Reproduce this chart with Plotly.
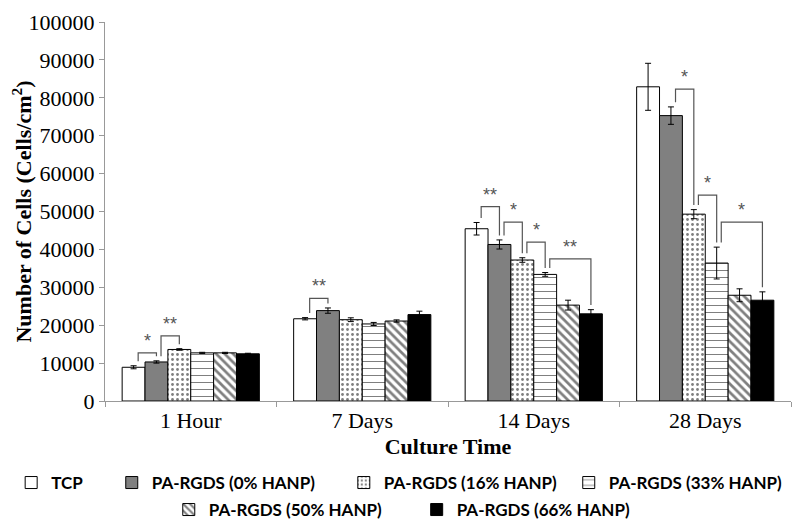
import plotly.graph_objects as go

categories = ["1 Hour", "7 Days", "14 Days", "28 Days"]
series_names = ["TCP", "PA-RGDS (0% HANP)", "PA-RGDS (16% HANP)",
                "PA-RGDS (33% HANP)", "PA-RGDS (50% HANP)", "PA-RGDS (66% HANP)"]

tcp = [8900, 21700, 45450, 82900]
tcp_err = [400, 300, 1650, 6200]
h0 = [10300, 23850, 41300, 75300]
h0_err = [300, 700, 1200, 2300]
h16 = [13600, 21450, 37200, 49300]
h16_err = [200, 500, 600, 1200]
h33 = [12700, 20330, 33400, 36400]
h33_err = [150, 400, 500, 4200]
h50 = [12700, 21100, 25300, 27900]
h50_err = [150, 300, 1300, 1700]
h66 = [12450, 22800, 23000, 26600]
h66_err = [150, 900, 1100, 2200]

values = [tcp, h0, h16, h33, h50, h66]
errors = [tcp_err, h0_err, h16_err, h33_err, h50_err, h66_err]

# significance brackets: (group index, left bar, right bar, bracket level, label)
bracket_group = [0, 0, 1, 2, 2, 2, 2, 3, 3, 3]
bracket_left = [0, 1, 0, 0, 1, 2, 3, 1, 2, 3]
bracket_right = [1, 2, 1, 1, 2, 3, 5, 2, 3, 5]
bracket_level = [12700, 17200, 27100, 51300, 47200, 41900, 37500, 82300, 54300, 47200]
bracket_label = ["*", "**", "**", "**", "*", "*", "**", "*", "*", "*"]

styles = [
    dict(color="white", pattern=dict(shape="")),
    dict(color="#808080", pattern=dict(shape="")),
    dict(color="white", pattern=dict(shape=".", fgcolor="black", bgcolor="white", size=5, solidity=0.25, fillmode="overlay")),
    dict(color="white", pattern=dict(shape="-", fgcolor="black", bgcolor="white", size=7, solidity=0.15, fillmode="overlay")),
    dict(color="white", pattern=dict(shape="\\", fgcolor="black", bgcolor="white", size=6, solidity=0.45, fillmode="overlay")),
    dict(color="black", pattern=dict(shape="")),
]
legend_ids = ["legend", "legend2", "legend3", "legend4", "legend5", "legend6"]
# legend placement (container fractions)
legend_x = [0.004, 0.131, 0.424, 0.708, 0.203, 0.516]
legend_y = [0.0883, 0.0883, 0.0883, 0.0883, 0.0365, 0.0365]

fig = go.Figure()
for k in range(6):
    fig.add_trace(go.Bar(
        x=categories, y=values[k], name=series_names[k],
        marker=dict(color=styles[k]["color"], pattern=styles[k]["pattern"],
                    line=dict(color="black", width=1)),
        error_y=dict(type="data", array=errors[k], color="black", thickness=1, width=3),
        legend=legend_ids[k], showlegend=True,
    ))

bargap = 0.2
nb = 6
bw = (1 - bargap) / nb


def bar_center(g, j):
    return g - (1 - bargap) / 2 + (j + 0.5) * bw


shapes = []
annotations = []
gap = 1200
for g, a, b, lvl, lab in zip(bracket_group, bracket_left, bracket_right, bracket_level, bracket_label):
    xl = bar_center(g, a) + 0.2 * bw
    xr = bar_center(g, b)
    yl = values[a][g] + errors[a][g] + gap
    yr = values[b][g] + errors[b][g] + gap
    shapes.append(dict(type="path", xref="x", yref="y",
                       path=f"M {xl},{yl} L {xl},{lvl} L {xr},{lvl} L {xr},{yr}",
                       line=dict(color="#555", width=1.2)))
    annotations.append(dict(x=(xl + xr) / 2, y=lvl, xref="x", yref="y", text=lab,
                            showarrow=False, yanchor="bottom", yshift=0,
                            font=dict(family="Liberation Sans, Arial", size=18, color="#555")))

serif = "Liberation Serif, Times New Roman, serif"
legend_font = dict(family="Lato, Carlito, Calibri, sans-serif", size=17, color="black", weight="bold")

layout_legends = {}
for k in range(6):
    layout_legends[legend_ids[k]] = dict(
        orientation="h", xref="container", yref="container", x=legend_x[k], y=legend_y[k],
        xanchor="left", yanchor="middle", font=legend_font, bgcolor="rgba(0,0,0,0)")

fig.update_layout(
    width=792, height=521,
    margin=dict(l=97, r=9, t=14, b=128, autoexpand=False),
    showlegend=True,
    paper_bgcolor="white", plot_bgcolor="white",
    barmode="group", bargap=bargap, bargroupgap=0,
    font=dict(family=serif, color="black"),
    xaxis=dict(type="category", tickson="boundaries", ticks="outside", ticklen=5,
               tickcolor="#999", showline=True, linecolor="#999", linewidth=1,
               tickfont=dict(family=serif, size=22, color="black"),
               title=dict(text="<b>Culture Time</b>", font=dict(family=serif, size=22, color="black"), standoff=6),
               range=[-0.5, 3.5]),
    yaxis=dict(range=[0, 100000], dtick=10000, tickformat="d", ticks="outside", ticklen=5, tickcolor="#999",
               showline=True, linecolor="#999", linewidth=1, showgrid=False, zeroline=False,
               ticklabeloverflow="allow",
               tickfont=dict(family=serif, size=22, color="black"),
               title=dict(text="<b>Number of Cells (Cells/cm<sup>2</sup>)</b>",
                          font=dict(family=serif, size=22, color="black"), standoff=0)),
    shapes=shapes, annotations=annotations,
    **layout_legends,
)

fig.write_html("out.html")
